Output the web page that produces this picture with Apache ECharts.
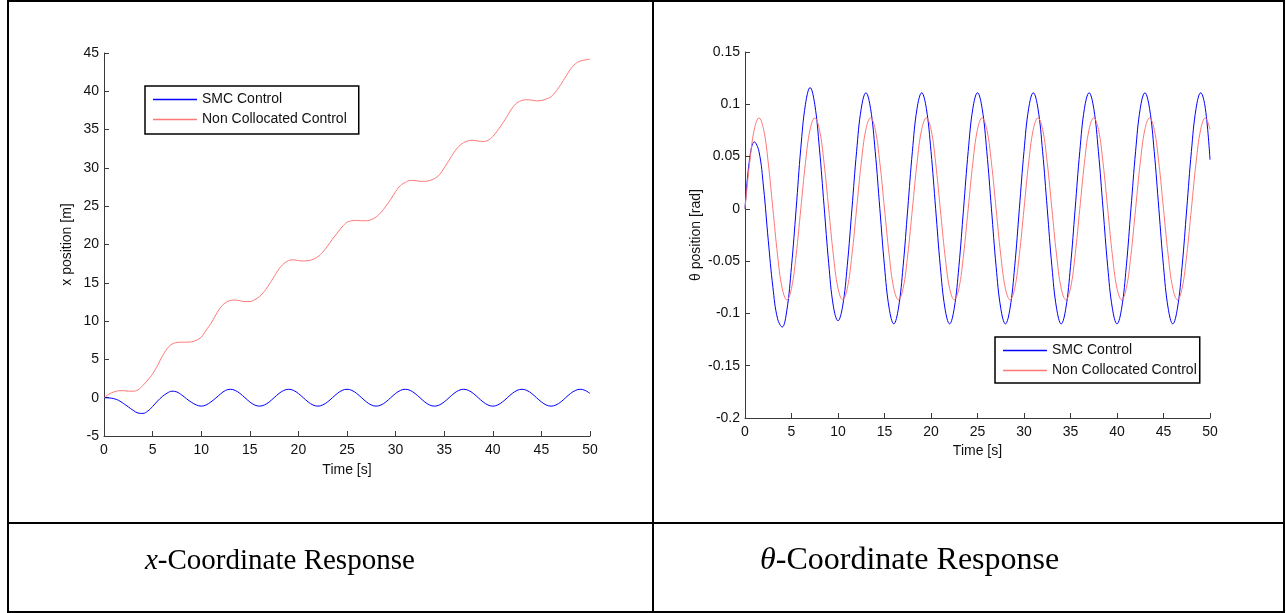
<!DOCTYPE html>
<html>
<head>
<meta charset="utf-8">
<script src="https://cdn.jsdelivr.net/npm/echarts@6/dist/echarts.min.js"></script>
<style>
html,body{margin:0;padding:0;background:#fff;}
#chart{width:1286px;height:613px;}
</style>
</head>
<body>
<div id="chart"></div>
<script>
// ---- data ----
const timeS = [
0,0.5,1,1.5,2,2.5,3,3.5,4,4.5,
5,5.5,6,6.5,7,7.5,8,8.5,9,9.5,
10,10.5,11,11.5,12,12.5,13,13.5,14,14.5,
15,15.5,16,16.5,17,17.5,18,18.5,19,19.5,
20,20.5,21,21.5,22,22.5,23,23.5,24,24.5,
25,25.5,26,26.5,27,27.5,28,28.5,29,29.5,
30,30.5,31,31.5,32,32.5,33,33.5,34,34.5,
35,35.5,36,36.5,37,37.5,38,38.5,39,39.5,
40,40.5,41,41.5,42,42.5,43,43.5,44,44.5,
45,45.5,46,46.5,47,47.5,48,48.5,49,49.5,
50];

// x-coordinate response [m]
const xSmc = [
0,-0.03,-0.12,-0.35,-0.75,-1.2,-1.65,-2.0,-2.05,-1.75,
-1.15,-0.45,0.15,0.6,0.85,0.75,0.35,-0.15,-0.6,-0.95,
-1.1,-0.95,-0.55,-0.05,0.5,0.95,1.1,0.95,0.55,0,
-0.55,-0.95,-1.1,-0.95,-0.55,0,0.55,0.95,1.1,0.95,
0.55,0,-0.55,-0.95,-1.1,-0.95,-0.55,0,0.55,0.95,
1.1,0.95,0.55,0,-0.55,-0.95,-1.1,-0.95,-0.55,0,
0.55,0.95,1.1,0.95,0.55,0,-0.55,-0.95,-1.1,-0.95,
-0.55,0,0.55,0.95,1.1,0.95,0.55,0,-0.55,-0.95,
-1.1,-0.95,-0.55,0,0.55,0.95,1.1,0.95,0.55,0,
-0.55,-0.95,-1.1,-0.95,-0.55,0,0.55,0.95,1.1,0.95,
0.55];
const xNc = [
0,0.45,0.75,0.9,0.92,0.85,0.85,1.05,1.6,2.3,
3.1,4.2,5.4,6.4,7.0,7.2,7.25,7.25,7.3,7.5,
7.9,8.8,9.7,10.8,11.8,12.4,12.7,12.75,12.65,12.55,
12.55,12.8,13.2,13.9,14.8,15.8,16.8,17.5,17.9,18.0,
17.9,17.85,17.9,18.05,18.4,19.0,19.8,20.7,21.5,22.3,
22.9,23.1,23.15,23.1,23.1,23.25,23.6,24.2,25.0,25.9,
26.9,27.7,28.1,28.35,28.35,28.25,28.25,28.35,28.6,29.1,
30.0,31.0,32.0,32.8,33.3,33.55,33.6,33.5,33.45,33.6,
34.1,34.9,35.8,36.8,37.8,38.5,38.8,38.9,38.85,38.75,
38.8,39.0,39.3,40.0,40.9,41.9,42.9,43.6,43.95,44.1,
44.2];

// theta-coordinate response [rad]
const thSmc = [
0,0.048,0.064,0.055,0.02,-0.03,-0.075,-0.105,-0.113,-0.097,
-0.055,0,0.058,0.1,0.116,0.1,0.058,0.003,-0.052,-0.093,
-0.107,-0.093,-0.054,0,0.055,0.096,0.111,0.096,0.055,0,
-0.055,-0.095,-0.11,-0.095,-0.055,0,0.055,0.096,0.111,0.096,
0.055,0,-0.055,-0.095,-0.11,-0.095,-0.055,0,0.055,0.096,
0.111,0.096,0.055,0,-0.055,-0.095,-0.11,-0.095,-0.055,0,
0.055,0.096,0.111,0.096,0.055,0,-0.055,-0.095,-0.11,-0.095,
-0.055,0,0.055,0.096,0.111,0.096,0.055,0,-0.055,-0.095,
-0.11,-0.095,-0.055,0,0.055,0.096,0.111,0.096,0.055,0,
-0.055,-0.095,-0.11,-0.095,-0.055,0,0.055,0.096,0.111,0.096,
0.047];
const thNc = [
0,0.044,0.076,0.087,0.076,0.044,0,-0.044,-0.076,-0.087,
-0.076,-0.044,0,0.044,0.076,0.087,0.076,0.044,0,-0.044,
-0.076,-0.087,-0.076,-0.044,0,0.044,0.076,0.087,0.076,0.044,
0,-0.044,-0.076,-0.087,-0.076,-0.044,0,0.044,0.076,0.087,
0.076,0.044,0,-0.044,-0.076,-0.087,-0.076,-0.044,0,0.044,
0.076,0.087,0.076,0.044,0,-0.044,-0.076,-0.087,-0.076,-0.044,
0,0.044,0.076,0.087,0.076,0.044,0,-0.044,-0.076,-0.087,
-0.076,-0.044,0,0.044,0.076,0.087,0.076,0.044,0,-0.044,
-0.076,-0.087,-0.076,-0.044,0,0.044,0.076,0.087,0.076,0.044,
0,-0.044,-0.076,-0.087,-0.076,-0.044,0,0.044,0.076,0.087,
0.076];

const seriesNames = ['SMC Control', 'Non Collocated Control'];
const captionLeft = ['x', '-Coordinate Response'];
const captionRight = ['θ', '-Coordinate Response'];
const xAxisTitle = 'Time [s]';
const yTitleLeft = 'x position [m]';
const yTitleRight = 'θ position [rad]';

// ---- chart ----
const FONT = "'Liberation Sans', Arial, sans-serif";
const SERIF = "'Liberation Serif', 'Times New Roman', serif";
const BLUE = '#0000ff';
const RED = '#ff7777';
const AX = '#3a3a3a';
const FS = 14;

function pairs(v) { return timeS.map((t, i) => [t, v[i]]); }

function xAxisCfg(gridIndex, gap, margin) {
  return {
    type: 'value', gridIndex, min: 0, max: 50, interval: 5,
    name: xAxisTitle, nameLocation: 'middle', nameGap: gap,
    nameTextStyle: { fontFamily: FONT, fontSize: FS, color: '#111' },
    axisLine: { show: true, onZero: false, lineStyle: { color: AX, width: 1 } },
    axisTick: { show: true, inside: true, length: 5, lineStyle: { color: AX } },
    axisLabel: { fontFamily: FONT, fontSize: FS, color: '#111', margin },
    splitLine: { show: false }
  };
}
function yAxisCfg(gridIndex, min, max, interval, name, gap, fmt) {
  return {
    type: 'value', gridIndex, min, max, interval,
    name, nameLocation: 'middle', nameGap: gap, nameRotate: 90,
    nameTextStyle: { fontFamily: FONT, fontSize: FS, color: '#111' },
    axisLine: { show: true, onZero: false, lineStyle: { color: AX, width: 1 } },
    axisTick: { show: true, inside: true, length: 5, lineStyle: { color: AX } },
    axisLabel: { fontFamily: FONT, fontSize: FS, color: '#111', margin: 5, formatter: fmt },
    splitLine: { show: false }
  };
}
function lineSeries(name, xi, yi, data, color) {
  return {
    name, type: 'line', xAxisIndex: xi, yAxisIndex: yi,
    data: pairs(data), showSymbol: false, smooth: 0.4,
    lineStyle: { color, width: 1 }, itemStyle: { color },
    emphasis: { disabled: true }, animation: false
  };
}
function legendCfg(left, top, pad) {
  return {
    left, top, orient: 'vertical', data: seriesNames,
    icon: 'rect', itemWidth: 44, itemHeight: 1.5, itemGap: 5,
    padding: pad,
    borderColor: '#000', borderWidth: 1.5, backgroundColor: '#fff',
    textStyle: { fontFamily: FONT, fontSize: FS, color: '#111', lineHeight: 15 },
    selectedMode: false
  };
}
function caption(x, top, size, parts) {
  return {
    type: 'text', left: x, top, z: 10,
    style: {
      text: '{i|' + parts[0] + '}{n|' + parts[1] + '}',
      rich: {
        i: { fontFamily: SERIF, fontSize: size, fontStyle: 'italic', fill: '#000' },
        n: { fontFamily: SERIF, fontSize: size, fill: '#000' }
      }
    }
  };
}

const chart = echarts.init(document.getElementById('chart'), null, { renderer: 'canvas' });
chart.setOption({
  backgroundColor: '#fff',
  animation: false,
  grid: [
    { left: 104, top: 53, width: 486, height: 383 },
    { left: 745, top: 52, width: 465, height: 366 }
  ],
  xAxis: [xAxisCfg(0, 27, 7), xAxisCfg(1, 25, 7)],
  yAxis: [
    yAxisCfg(0, -5, 45, 5, yTitleLeft, 30, v => String(v)),
    yAxisCfg(1, -0.2, 0.15, 0.05, yTitleRight, 42, v => String(+v.toFixed(2)))
  ],
  legend: [legendCfg(145, 86, [6, 12, 7, 8]), legendCfg(995, 337, [6, 3, 5, 8])],
  series: [
    lineSeries(seriesNames[0], 0, 0, xSmc, BLUE),
    lineSeries(seriesNames[1], 0, 0, xNc, RED),
    lineSeries(seriesNames[0], 1, 1, thSmc, BLUE),
    lineSeries(seriesNames[1], 1, 1, thNc, RED)
  ],
  graphic: [
    { type: 'rect', shape: { x: 8, y: 1, width: 1276, height: 611 }, style: { fill: null, stroke: '#000', lineWidth: 2 }, z: 10 },
    { type: 'line', shape: { x1: 653, y1: 1, x2: 653, y2: 612 }, style: { stroke: '#000', lineWidth: 2 }, z: 10 },
    { type: 'line', shape: { x1: 8, y1: 523, x2: 1284, y2: 523 }, style: { stroke: '#000', lineWidth: 2 }, z: 10 },
    caption(145, 547, 29, captionLeft),
    caption(760, 545, 32, captionRight)
  ]
});
</script>
</body>
</html>
